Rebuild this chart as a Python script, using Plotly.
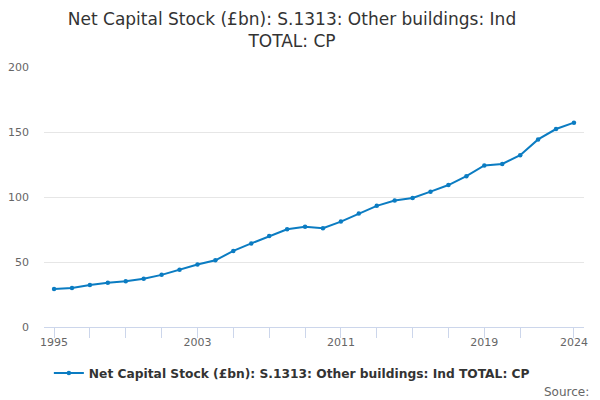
import plotly.graph_objects as go

years = list(range(1995, 2025))
values = [29.2, 30.0, 32.3, 34.1, 35.2, 37.2, 40.1, 44.1, 48.1, 51.3,
          58.5, 64.3, 70.0, 75.2, 77.1, 76.0, 81.1, 87.4, 93.2, 97.3,
          99.2, 104.1, 109.2, 116.0, 124.3, 125.4, 132.1, 144.3, 152.3, 157.2]
series_name = "Net Capital Stock (£bn): S.1313: Other buildings: Ind TOTAL: CP"
title_text = "Net Capital Stock (£bn): S.1313: Other buildings: Ind<br>TOTAL: CP"
x_tick_vals = [1995, 1997, 1999, 2001, 2003, 2005, 2007, 2009, 2011, 2013,
               2015, 2017, 2019, 2021, 2024]
x_tick_labels = ["1995", "", "", "", "2003", "", "", "", "2011", "",
                 "", "", "2019", "", "2024"]
y_tick_vals = [0, 50, 100, 150, 200]

fig = go.Figure()
fig.add_trace(go.Scatter(
    x=years, y=values, mode="lines+markers", name=series_name,
    line=dict(color="#0b7cc2", width=2),
    marker=dict(color="#0b7cc2", size=4.5),
))

# page body has an 8px default margin, so the figure is drawn offset by 8px
fig.update_layout(
    width=600, height=400,
    paper_bgcolor="white", plot_bgcolor="white",
    font=dict(family="DejaVu Sans", color="#333333"),
    title=dict(text=title_text, x=(292 - 8) / 600, xanchor="center", y=1 - 17 / 400,
               yanchor="middle", font=dict(size=17, color="#333333")),
    margin=dict(l=36, r=24, t=59, b=81, autoexpand=False),
    showlegend=True,
    legend=dict(orientation="h", x=0.459, xanchor="center", y=-0.177, yanchor="middle",
                font=dict(size=12.25, color="#333333", family="DejaVu Sans", weight="bold")),
    annotations=[dict(text="Source:", xref="paper", yref="paper", x=1.0 + 7/540, y=-0.25,
                      xanchor="right", yanchor="middle", showarrow=False,
                      font=dict(size=12, color="#666666"))],
)
fig.update_xaxes(
    range=[1994.44, 2024.56], tickmode="array", tickvals=x_tick_vals, ticktext=x_tick_labels,
    showgrid=False, showline=True, linecolor="#ccd6eb", linewidth=1,
    ticks="outside", ticklen=10, tickcolor="#ccd6eb", tickwidth=1,
    tickfont=dict(size=11, color="#666666"), zeroline=False, automargin=False,
    ticklabelstandoff=-5,
)
fig.update_yaxes(
    range=[0, 200], tickmode="array", tickvals=y_tick_vals,
    showgrid=True, gridcolor="#e6e6e6", gridwidth=1, zeroline=False,
    showline=False, ticks="", tickfont=dict(size=11, color="#666666"),
    ticklabelstandoff=14, automargin=False,
)

fig.write_html("out.html")
